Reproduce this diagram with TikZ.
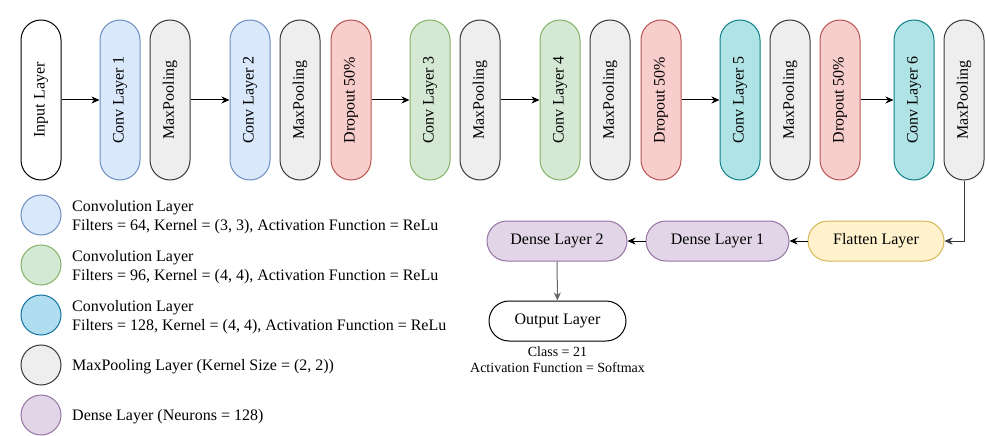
\documentclass[tikz,border=0pt]{standalone}
\usepackage{fontspec}
\setmainfont{Liberation Serif}
\usetikzlibrary{arrows.meta}

\definecolor{bluefill}{HTML}{DAE8FC}
\definecolor{blueline}{HTML}{6C8EBF}
\definecolor{greenfill}{HTML}{D5E8D4}
\definecolor{greenline}{HTML}{82B366}
\definecolor{tealfill}{HTML}{B0E3E6}
\definecolor{tealline}{HTML}{0E8088}
\definecolor{skyfill}{HTML}{B1DDF0}
\definecolor{skyline}{HTML}{10739E}
\definecolor{greyfill}{HTML}{EEEEEE}
\definecolor{greyline}{HTML}{36393D}
\definecolor{redfill}{HTML}{F8CECC}
\definecolor{redline}{HTML}{B85450}
\definecolor{purplefill}{HTML}{E1D5E7}
\definecolor{purpleline}{HTML}{9673A6}
\definecolor{yellowfill}{HTML}{FFF2CC}
\definecolor{yellowline}{HTML}{D6B656}

\tikzset{
 layer/.style={draw, line width=1pt, rounded corners=20pt, minimum width=160pt, minimum height=40pt, inner sep=0pt, rotate=90, font=\fontsize{16}{19}\selectfont},
 flat/.style={draw, line width=1pt, rounded corners=20pt, minimum height=40pt, inner sep=0pt, font=\fontsize{16}{19}\selectfont},
 conv/.style={fill=bluefill, draw=blueline},
 convb/.style={fill=greenfill, draw=greenline},
 convc/.style={fill=tealfill, draw=tealline},
 pool/.style={fill=greyfill, draw=greyline},
 drop/.style={fill=redfill, draw=redline},
 dense/.style={fill=purplefill, draw=purpleline},
 legdot/.style={circle, draw, line width=1pt, minimum size=40pt, inner sep=0pt},
 legtext/.style={anchor=west, align=left, inner sep=0pt, font=\fontsize{16}{19}\selectfont},
 conn/.style={line width=1pt, -{Stealth[length=8pt, width=7pt, inset=2.5pt]}}
}

\begin{document}
\begin{tikzpicture}[x=1pt, y=-1pt]
 \def\r{100}
 \useasboundingbox (0,0) rectangle (986,436);

 %Top row
 \node[layer, fill=white] (input) at (41,\r) {Input Layer};
 \node[layer, conv] (conv1) at (120,\r) {Conv Layer 1};
 \node[layer, pool] (pool1) at (170,\r) {MaxPooling};
 \node[layer, conv] (conv2) at (250,\r) {Conv Layer 2};
 \node[layer, pool] (pool2) at (300,\r) {MaxPooling};
 \node[layer, drop] (drop1) at (351,\r) {Dropout 50\%};
 \node[layer, convb] (conv3) at (430,\r) {Conv Layer 3};
 \node[layer, pool] (pool3) at (480,\r) {MaxPooling};
 \node[layer, convb] (conv4) at (560,\r) {Conv Layer 4};
 \node[layer, pool] (pool4) at (610,\r) {MaxPooling};
 \node[layer, drop] (drop2) at (661,\r) {Dropout 50\%};
 \node[layer, convc] (conv5) at (740,\r) {Conv Layer 5};
 \node[layer, pool] (pool5) at (790,\r) {MaxPooling};
 \node[layer, drop] (drop3) at (840,\r) {Dropout 50\%};
 \node[layer, convc] (conv6) at (914,\r) {Conv Layer 6};
 \node[layer, pool] (pool6) at (964,\r) {MaxPooling};

 %Dense part
 \node[flat, fill=yellowfill, draw=yellowline, minimum width=136pt] (flatten) at (876,241) {Flatten Layer};
 \node[flat, dense, minimum width=143pt] (dense1) at (717.5,241) {Dense Layer 1};
 \node[flat, dense, minimum width=140pt] (dense2) at (557,241) {Dense Layer 2};
 \node[flat, fill=white, minimum width=137pt] (output) at (557.5,321) {Output Layer};
 \node[align=center, inner sep=0pt, font=\fontsize{14}{16}\selectfont] (note) at (557.5,360) {Class = 21\\Activation Function = Softmax};

 %Arrows
 \draw[conn] (input) -- (conv1);
 \draw[conn] (pool1) -- (conv2);
 \draw[conn] (drop1) -- (conv3);
 \draw[conn] (pool3) -- (conv4);
 \draw[conn] (drop2) -- (conv5);
 \draw[conn] (drop3) -- (conv6);
 \draw[conn, greyline] (pool6.west) |- (flatten.east);
 \draw[conn] (flatten) -- (dense1);
 \draw[conn] (dense1) -- (dense2);
 \draw[conn, black!60] (dense2) -- (output);

 %Legend
 \node[legdot, fill=bluefill, draw=blueline] (leg1) at (41,215) {};
 \node[legdot, fill=greenfill, draw=greenline] (leg2) at (41,265) {};
 \node[legdot, fill=skyfill, draw=skyline] (leg3) at (41,315) {};
 \node[legdot, fill=greyfill, draw=greyline] (leg4) at (41,365) {};
 \node[legdot, fill=purplefill, draw=purpleline] (leg5) at (41,415) {};
 \node[legtext] (txt1) at (72,217) {Convolution Layer\\Filters = 64, Kernel = (3, 3), Activation Function = ReLu};
 \node[legtext] (txt2) at (72,267) {Convolution Layer\\Filters = 96, Kernel = (4, 4), Activation Function = ReLu};
 \node[legtext] (txt3) at (72,317) {Convolution Layer\\Filters = 128, Kernel = (4, 4), Activation Function = ReLu};
 \node[legtext] (txt4) at (72,367) {MaxPooling Layer (Kernel Size = (2, 2))};
 \node[legtext] (txt5) at (72,417) {Dense Layer (Neurons = 128)};

\end{tikzpicture}
\end{document}
